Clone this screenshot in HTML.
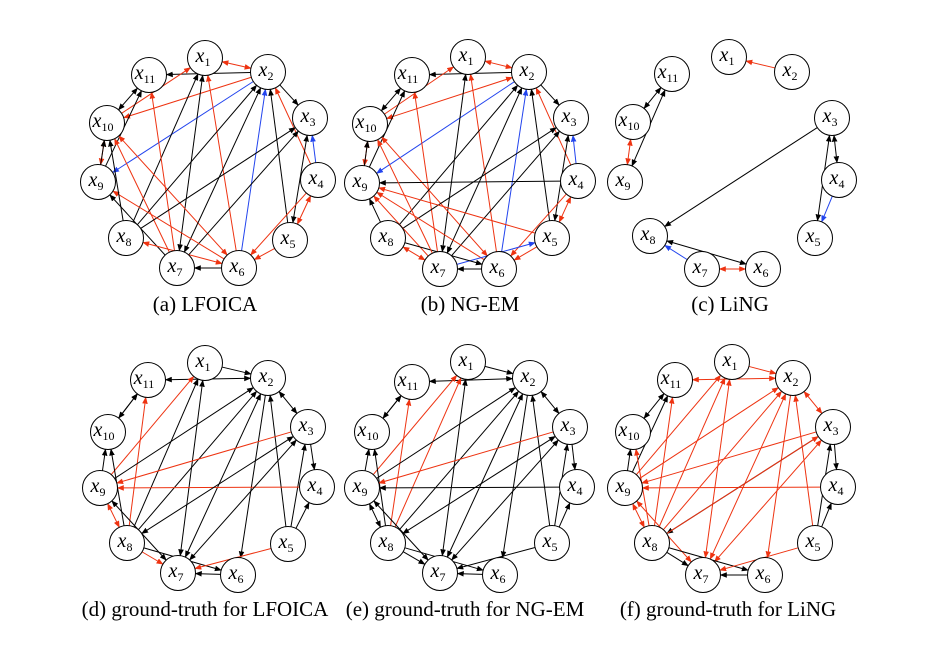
<!DOCTYPE html>
<html><head><meta charset="utf-8"><style>
html,body{margin:0;padding:0;background:#fff;}
svg{display:block}
</style></head><body>
<svg id="s" width="944" height="646" viewBox="0 0 944 646" xmlns="http://www.w3.org/2000/svg">
<defs>
<marker id="mk" viewBox="0 0 10 10" refX="9" refY="5" markerWidth="7" markerHeight="7" orient="auto-start-reverse" markerUnits="userSpaceOnUse"><path d="M0,1 L10,5 L0,9 z" fill="#000"/></marker>
<marker id="mr" viewBox="0 0 10 10" refX="9" refY="5" markerWidth="7" markerHeight="7" orient="auto-start-reverse" markerUnits="userSpaceOnUse"><path d="M0,1 L10,5 L0,9 z" fill="#ee3311"/></marker>
<marker id="mb" viewBox="0 0 10 10" refX="9" refY="5" markerWidth="7" markerHeight="7" orient="auto-start-reverse" markerUnits="userSpaceOnUse"><path d="M0,1 L10,5 L0,9 z" fill="#2244ee"/></marker>
</defs>
<g id="edges"></g>
<g id="nodes"></g>
<g font-family="Liberation Serif, serif" font-size="21" fill="#000" text-anchor="middle">
<text x="205" y="311">(a) LFOICA</text>
<text x="470" y="311">(b) NG-EM</text>
<text x="730" y="311">(c) LiNG</text>
<text x="205" y="616">(d) ground-truth for LFOICA</text>
<text x="465" y="616">(e) ground-truth for NG-EM</text>
<text x="728" y="616">(f) ground-truth for LiNG</text>
</g>
</svg>
<script>
var P={
a:{1:[205,58],2:[268,72],3:[310,118],4:[318,180],5:[290,240],6:[239,268],7:[177,268],8:[126,238],9:[98,182],10:[107,123],11:[149,75]},
b:{1:[468,57],2:[529,72],3:[571,118],4:[578,181],5:[552,238],6:[499,269],7:[440,269],8:[388,238],9:[362,183],10:[370,124],11:[412,75]},
c:{1:[729,57],2:[792,72],3:[832,118],4:[839,180],5:[815,238],6:[763,269],7:[702,269],8:[650,236],9:[625,182],10:[633,122],11:[672,74]},
d:{1:[205,363],2:[268,378],3:[308,427],4:[317,487],5:[288,544],6:[238,575],7:[178,573],8:[127,543],9:[100,488],10:[108,432],11:[148,380]},
e:{1:[468,362],2:[530,378],3:[570,427],4:[577,487],5:[552,543],6:[500,575],7:[440,573],8:[388,543],9:[362,488],10:[372,432],11:[412,382]},
f:{1:[732,362],2:[793,378],3:[833,427],4:[838,487],5:[815,543],6:[765,575],7:[703,575],8:[652,543],9:[625,488],10:[633,432],11:[675,380]}
};
var E={
a:[[2,11,'k'],[1,2,'r',1],[2,3,'k'],[11,10,'k',1],[10,1,'r'],[2,10,'r'],[2,9,'b'],[10,9,'r',1],[9,10,'k'],[9,11,'k'],[8,1,'k'],[7,1,'k',1],[7,11,'r'],[7,10,'r'],[6,10,'r',1],[6,1,'r'],[6,2,'b'],[5,2,'k'],[4,2,'r'],[8,2,'k'],[7,2,'k',1],[8,3,'k'],[7,3,'k'],[5,3,'k',1],[4,3,'b'],[5,4,'r',1],[4,6,'r'],[5,6,'r'],[6,9,'r'],[7,9,'k'],[8,6,'r',1],[6,7,'k'],[8,10,'k']],
b:[[2,11,'k'],[1,2,'r',1],[2,3,'k'],[11,10,'k',1],[10,1,'r'],[2,10,'r',1],[2,9,'b'],[10,9,'r',1],[9,10,'k'],[9,11,'k'],[7,1,'k',1],[7,11,'r'],[6,1,'r'],[6,10,'r',1],[6,2,'b'],[5,2,'k'],[4,2,'r'],[8,2,'k'],[7,2,'k',1],[8,3,'k'],[7,3,'k'],[5,3,'k',1],[4,3,'b'],[5,4,'r',1],[4,6,'r'],[5,6,'r'],[4,9,'k'],[5,9,'r'],[6,9,'r'],[7,9,'r'],[8,9,'k'],[7,5,'b'],[6,7,'k'],[8,7,'r',1],[8,6,'k'],[7,10,'r']],
c:[[2,1,'r'],[10,11,'k',1],[9,11,'k',1],[9,10,'r',1],[3,8,'k'],[3,4,'k',1],[3,5,'k',1],[4,5,'b'],[8,6,'k',1],[7,8,'b'],[7,6,'r',1]],
d:[[1,2,'k'],[2,11,'k',1],[9,1,'r'],[11,10,'k',1],[10,11,'k'],[9,10,'k'],[8,10,'k'],[8,11,'r'],[8,1,'k'],[7,1,'k',1],[9,2,'k'],[8,2,'k'],[7,2,'k',1],[2,6,'k'],[2,3,'k',1],[5,2,'k'],[5,3,'k'],[5,4,'k'],[3,4,'k'],[3,9,'r'],[4,9,'r'],[3,8,'k',1],[3,7,'k',1],[9,8,'r',1],[9,7,'k',1],[8,7,'r'],[8,6,'k'],[6,7,'k'],[5,7,'r']],
e:[[1,2,'k'],[2,11,'k',1],[9,1,'r'],[8,1,'r'],[8,11,'r'],[11,10,'k',1],[10,11,'k'],[9,10,'k'],[8,10,'k'],[7,1,'k',1],[9,2,'k'],[8,2,'k'],[7,2,'k',1],[2,6,'k'],[2,3,'k',1],[5,2,'k'],[5,3,'k'],[5,4,'k'],[3,4,'k'],[3,9,'r'],[4,9,'k'],[3,8,'k',1],[3,7,'k',1],[9,8,'k',1],[9,7,'k',1],[8,7,'k'],[8,6,'k'],[6,7,'k'],[5,7,'k']],
f:[[1,2,'r'],[11,2,'r',1],[10,11,'k',1],[9,11,'k'],[9,10,'k'],[8,10,'r'],[8,11,'r'],[9,1,'r'],[8,1,'r'],[7,1,'r',1],[9,2,'r'],[8,2,'r'],[7,2,'r',1],[2,6,'r'],[2,3,'r',1],[5,2,'r'],[5,3,'k'],[5,4,'k'],[3,4,'k'],[3,9,'r'],[4,9,'r'],[3,8,'k'],[8,3,'r'],[7,3,'r',1],[9,8,'r',1],[9,7,'r',1],[8,7,'k'],[8,6,'k'],[6,7,'k'],[5,7,'r']]
};
var col={k:'#000',r:'#ee3311',b:'#2244ee'};
var R=17.5, NS='http://www.w3.org/2000/svg';
var ge=document.getElementById('edges'), gn=document.getElementById('nodes');
for(var p in E){E[p].forEach(function(e){
 var a=P[p][e[0]],b=P[p][e[1]];var dx=b[0]-a[0],dy=b[1]-a[1],L=Math.sqrt(dx*dx+dy*dy),ux=dx/L,uy=dy/L;
 var l=document.createElementNS(NS,'line');
 l.setAttribute('x1',a[0]+ux*R);l.setAttribute('y1',a[1]+uy*R);
 l.setAttribute('x2',b[0]-ux*R);l.setAttribute('y2',b[1]-uy*R);
 l.setAttribute('stroke',col[e[2]]);l.setAttribute('stroke-width','1');
 var m='url(#m'+e[2]+')';l.setAttribute('marker-end',m);if(e[3])l.setAttribute('marker-start',m);
 ge.appendChild(l);});}
for(var p in P){for(var k in P[p]){var c=P[p][k];
 var ci=document.createElementNS(NS,'circle');ci.setAttribute('cx',c[0]);ci.setAttribute('cy',c[1]);ci.setAttribute('r',R);
 ci.setAttribute('fill','#fff');ci.setAttribute('stroke','#000');ci.setAttribute('stroke-width','1');gn.appendChild(ci);
 var t=document.createElementNS(NS,'text');t.setAttribute('x',c[0]-(k.length>1?4:2));t.setAttribute('y',c[1]+4);
 t.setAttribute('text-anchor','middle');t.setAttribute('font-family','Liberation Serif, serif');t.setAttribute('font-size','20');
 t.innerHTML='<tspan font-style="italic">x</tspan><tspan font-size="12" dy="4">'+k+'</tspan>';gn.appendChild(t);}}
</script>
</body></html>
